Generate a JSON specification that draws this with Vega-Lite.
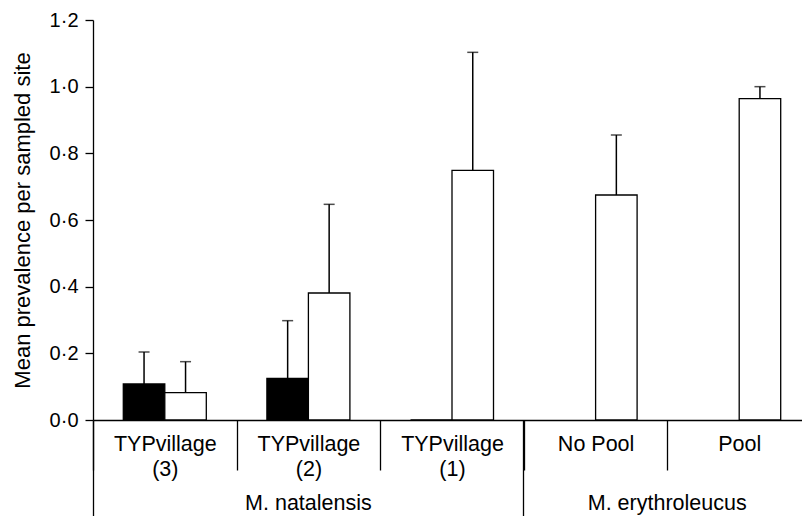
{
  "$schema": "https://vega.github.io/schema/vega-lite/v6.json",
  "width": 709,
  "height": 400,
  "autosize": {"type": "none"},
  "padding": {"left": 93, "top": 20, "right": 0, "bottom": 96},
  "background": "white",
  "config": {
    "view": {"stroke": null},
    "font": "Liberation Sans",
    "axis": {"grid": false}
  },
  "data": {
    "values": [
      {"group": "TYPvillage (3)", "series": "A", "value": 0.108, "upper": 0.204},
      {"group": "TYPvillage (3)", "series": "B", "value": 0.082, "upper": 0.175},
      {"group": "TYPvillage (2)", "series": "A", "value": 0.125, "upper": 0.298},
      {"group": "TYPvillage (2)", "series": "B", "value": 0.381, "upper": 0.647},
      {"group": "TYPvillage (1)", "series": "A", "value": 0, "upper": null},
      {"group": "TYPvillage (1)", "series": "B", "value": 0.749, "upper": 1.103},
      {"group": "No Pool", "series": "B", "value": 0.675, "upper": 0.855},
      {"group": "Pool", "series": "B", "value": 0.964, "upper": 1.0}
    ]
  },
  "resolve": {"axis": {"x": "independent"}},
  "layer": [
    {
      "mark": {"type": "bar", "stroke": "black", "strokeWidth": 1.3},
      "encoding": {
        "x": {
          "field": "group",
          "type": "nominal",
          "sort": null,
          "scale": {
            "domain": ["TYPvillage (3)", "TYPvillage (2)", "TYPvillage (1)", "No Pool", "Pool"],
            "range": [0, 718],
            "paddingInner": 0,
            "paddingOuter": 0
          },
          "axis": {
            "orient": "bottom",
            "title": null,
            "domain": true,
            "domainColor": "black",
            "domainWidth": 1.3,
            "ticks": true,
            "tickBand": "extent",
            "tickSize": 50,
            "tickColor": "black",
            "tickWidth": 1.3,
            "labelAngle": 0,
            "labelFont": "Liberation Sans",
            "labelFontSize": 21.5,
            "labelColor": "black",
            "labelLineHeight": 25,
            "labelPadding": -37,
            "labelOverlap": false,
            "labelBound": false,
            "labelExpr": "indexof(datum.label, 'TYP') == 0 ? split(datum.label, ' ') : datum.label"
          }
        },
        "xOffset": {
          "field": "series",
          "type": "nominal",
          "scale": {"domain": ["A", "B"], "paddingInner": 0, "paddingOuter": 0.73}
        },
        "y": {
          "field": "value",
          "type": "quantitative",
          "scale": {"domain": [0, 1.2], "nice": false, "zero": true},
          "axis": {
            "title": "Mean prevalence per sampled site",
            "titleFont": "Liberation Sans",
            "titleFontSize": 22,
            "titleFontWeight": "normal",
            "titleColor": "black",
            "titlePadding": 15,
            "values": [0, 0.2, 0.4, 0.6, 0.8, 1.0, 1.2],
            "labelExpr": "replace(format(datum.value, '.1f'), '.', '·')",
            "labelFont": "Liberation Sans",
            "labelFontSize": 20,
            "labelColor": "black",
            "labelPadding": 7,
            "domainColor": "black",
            "domainWidth": 1.3,
            "tickColor": "black",
            "tickWidth": 1.3,
            "tickSize": 8
          }
        },
        "fill": {
          "field": "series",
          "type": "nominal",
          "scale": {"domain": ["A", "B"], "range": ["black", "white"]},
          "legend": null
        }
      }
    },
    {
      "transform": [{"filter": "isValid(datum.upper)"}],
      "mark": {"type": "rule", "color": "black", "strokeWidth": 1.5},
      "encoding": {
        "x": {
          "field": "group",
          "type": "nominal",
          "sort": null,
          "axis": {
            "orient": "bottom",
            "title": null,
            "domain": false,
            "bandPosition": 0,
            "values": ["TYPvillage (3)", "TYPvillage (2)", "No Pool", "Pool"],
            "ticks": true,
            "tickSize": 96,
            "tickColor": "black",
            "tickWidth": 1.3,
            "tickOpacity": {
              "condition": {"test": "datum.value == 'TYPvillage (3)' || datum.value == 'No Pool'", "value": 1},
              "value": 0
            },
            "labelAngle": 0,
            "labelFont": "Liberation Sans",
            "labelFontSize": 21.5,
            "labelColor": "black",
            "labelPadding": -24,
            "labelOverlap": false,
            "labelBound": false,
            "labelOffset": {
              "condition": {"test": "datum.value == 'Pool'", "value": -72},
              "value": 0
            },
            "labelExpr": "datum.value == 'TYPvillage (2)' ? 'M. natalensis' : datum.value == 'Pool' ? 'M. erythroleucus' : ''"
          }
        },
        "xOffset": {"field": "series", "type": "nominal"},
        "y": {"field": "value", "type": "quantitative"},
        "y2": {"field": "upper"}
      }
    },
    {
      "transform": [{"filter": "isValid(datum.upper)"}],
      "mark": {"type": "tick", "color": "black", "thickness": 1.5, "size": 11, "orient": "horizontal"},
      "encoding": {
        "x": {"field": "group", "type": "nominal", "sort": null, "axis": null},
        "xOffset": {"field": "series", "type": "nominal"},
        "y": {"field": "upper", "type": "quantitative"}
      }
    }
  ]
}
